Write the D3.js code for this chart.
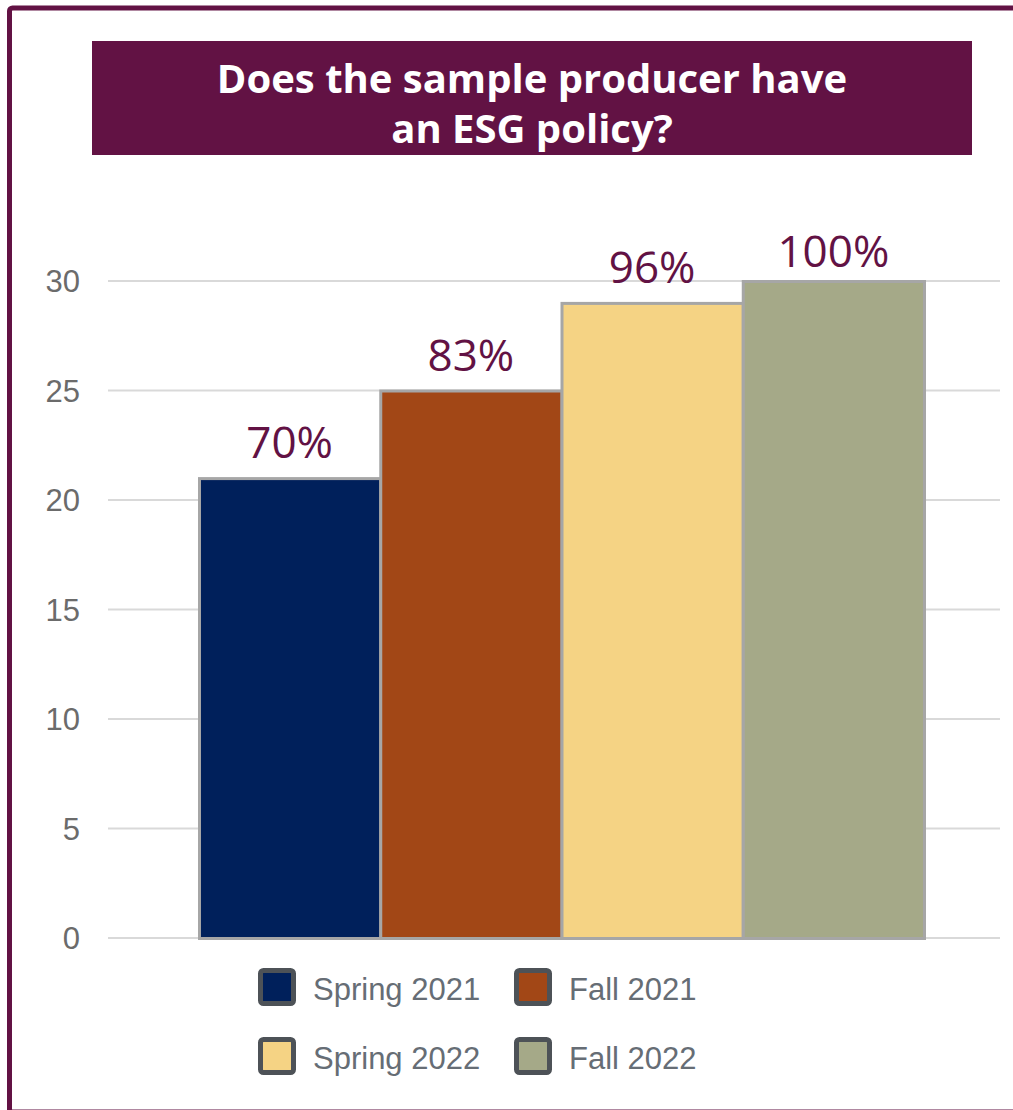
<!DOCTYPE html>
<html>
<head>
<meta charset="utf-8">
<script src="https://cdn.jsdelivr.net/npm/d3@7"></script>
<style>
  html, body { margin: 0; padding: 0; background: #ffffff; }
  svg { display: block; }
</style>
</head>
<body>
<div id="chart"></div>
<script>
// ---- Data ----
const categories = ["Spring 2021", "Fall 2021", "Spring 2022", "Fall 2022"];
const values = [21, 25, 29, 30];
const labels = ["70%", "83%", "96%", "100%"];
const colors = ["#00205b", "#a24716", "#f5d384", "#a5a988"];
const yTicks = [0, 5, 10, 15, 20, 25, 30];
const titleLines = ["Does the sample producer have", "an ESG policy?"];

// ---- Layout ----
const W = 1013, H = 1110;
const purple = "#621244";
const svg = d3.select("#chart").append("svg").attr("width", W).attr("height", H);

// frame
svg.append("rect")
  .attr("x", 9.5).attr("y", 8)
  .attr("width", 1040).attr("height", 1104)
  .attr("rx", 3)
  .attr("fill", "#fff").attr("stroke", purple).attr("stroke-width", 5);

// title box
svg.append("rect").attr("x", 92).attr("y", 41).attr("width", 880).attr("height", 114).attr("fill", purple);
svg.append("g").selectAll("text").data(titleLines).join("text")
  .attr("x", 532).attr("y", (d, i) => 93 + i * 50)
  .attr("text-anchor", "middle")
  .attr("fill", "#fff")
  .attr("font-family", "'Open Sans', 'Noto Sans', sans-serif")
  .attr("font-weight", 700)
  .attr("font-size", 40)
  .text(d => d);

// scales
const y = d3.scaleLinear().domain([0, 30]).range([938, 281]);
const x = d3.scaleBand().domain(categories).range([199, 924]).padding(0);

// gridlines
svg.append("g").selectAll("line").data(yTicks).join("line")
  .attr("x1", 108).attr("x2", 1000)
  .attr("y1", d => y(d)).attr("y2", d => y(d))
  .attr("stroke", "#d9d9d9").attr("stroke-width", 2);

// y axis labels via d3 axis
const yAxis = d3.axisLeft(y).tickValues(yTicks).tickSize(0).tickPadding(0);
const gy = svg.append("g").attr("transform", "translate(80,0)").call(yAxis);
gy.select(".domain").remove();
gy.selectAll("text")
  .attr("fill", "#6b6b6b")
  .attr("font-family", "'Liberation Sans', Arial, sans-serif")
  .attr("font-size", 31)
  .attr("dy", "0.35em");

// bars
svg.append("g").selectAll("rect").data(values).join("rect")
  .attr("x", (d, i) => x(categories[i]) + 0.5)
  .attr("y", d => y(d) + 0.5)
  .attr("width", x.bandwidth())
  .attr("height", d => y(0) - y(d))
  .attr("fill", (d, i) => colors[i])
  .attr("stroke", "#a6a6a6").attr("stroke-width", 3);

// value labels
svg.append("g").selectAll("text").data(values).join("text")
  .attr("x", (d, i) => x(categories[i]) + x.bandwidth() / 2)
  .attr("y", d => Math.max(y(d) - 20, 267))
  .attr("text-anchor", "middle")
  .attr("fill", purple)
  .attr("font-family", "'Open Sans', 'Noto Sans', sans-serif")
  .attr("font-size", 44)
  .text((d, i) => labels[i]);

// legend
const legX = [258, 514], legY = [968, 1037];
const leg = svg.append("g").selectAll("g").data(categories).join("g")
  .attr("transform", (d, i) => `translate(${legX[i % 2]},${legY[Math.floor(i / 2)]})`);
leg.append("rect")
  .attr("x", 2.5).attr("y", 2.5).attr("width", 33).attr("height", 33).attr("rx", 3)
  .attr("fill", (d, i) => colors[i])
  .attr("stroke", "#4d5257").attr("stroke-width", 5);
leg.append("text")
  .attr("x", 55).attr("y", 32)
  .attr("fill", "#666d75")
  .attr("font-family", "'Liberation Sans', Arial, sans-serif")
  .attr("font-size", 31)
  .text(d => d);
</script>
</body>
</html>
